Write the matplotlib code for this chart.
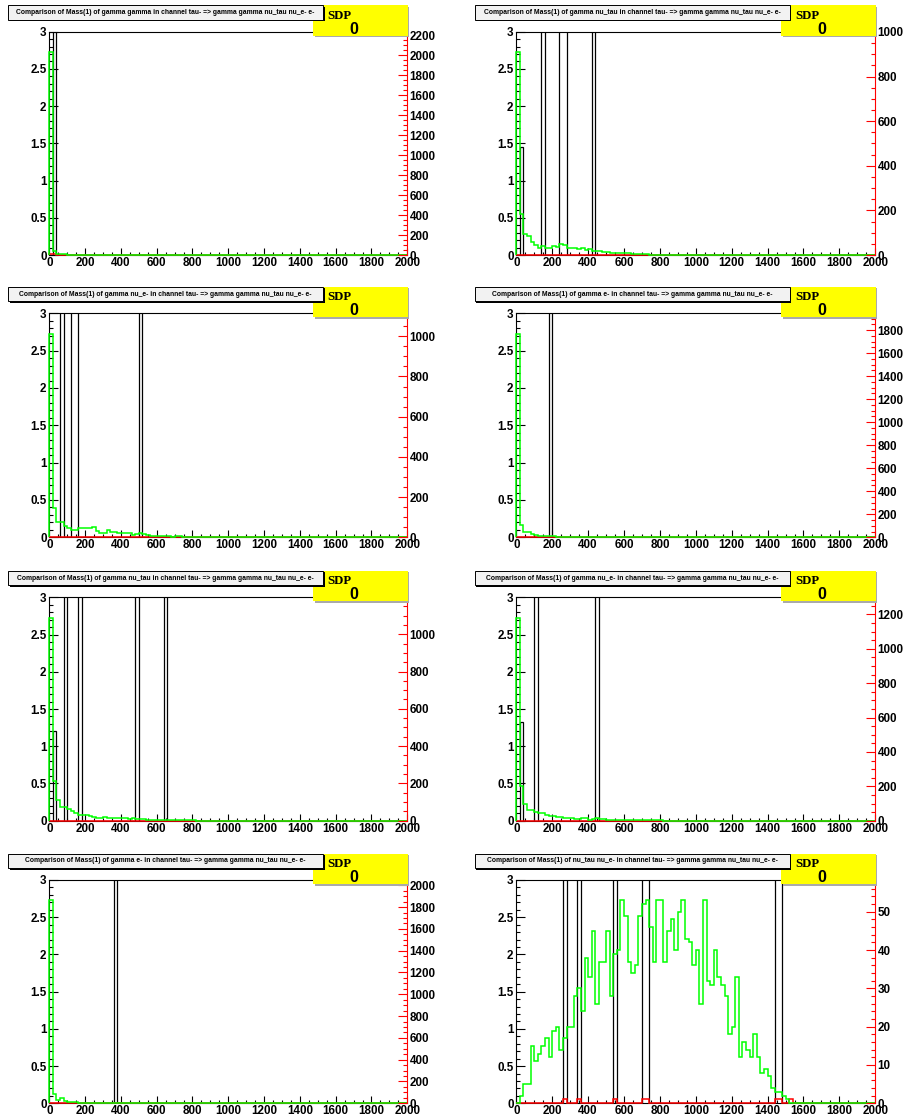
import numpy as np
import matplotlib
matplotlib.use('Agg')
import matplotlib.pyplot as plt
from matplotlib.patches import Rectangle
from matplotlib.ticker import MultipleLocator, FuncFormatter

# ================= data =================
W, H = 904, 1119
EDGES = np.arange(0, 2001, 20)          # 100 bins of Mass(1)

TAIL = "in channel tau- => gamma gamma nu_tau nu_e- e-"
PAIRS = ["gamma gamma", "gamma nu_tau", "gamma nu_e-", "gamma e-",
         "gamma nu_tau", "gamma nu_e-", "gamma e-", "nu_tau nu_e-"]

# green histogram, counts per bin (right axis), leading bins only
GREEN_1 = [2031, 37, 15, 7, 7, 4, 2, 1]
GREEN_2 = [910, 183, 93, 83, 60, 47, 33, 40, 33, 33, 40, 37, 50, 43, 33, 30, 30, 27, 30, 23,
           27, 17, 20, 17, 13, 13, 10, 10, 7, 10, 7, 7, 5, 4, 4, 3, 3, 2, 2, 2, 1, 1, 1, 1, 1]
GREEN_3 = [1013, 148, 74, 74, 56, 48, 37, 37, 45, 45, 48, 48, 52, 30, 22, 19, 37, 26, 26, 22,
           22, 22, 19, 11, 15, 19, 15, 11, 7, 4, 4, 4, 6, 4, 2, 4, 4, 2]
GREEN_4 = [1769, 110, 45, 45, 26, 19, 13, 13, 13, 10, 13, 6, 3, 3, 3, 3, 3, 2, 2, 2, 2]
GREEN_5 = [1089, 211, 112, 72, 72, 64, 52, 40, 32, 28, 28, 24, 20, 16, 12, 20, 16, 16, 16, 16,
           12, 12, 8, 12, 8, 8, 8, 6, 4, 2, 4, 2, 2, 2, 2, 2, 2, 2, 2, 2, 2]
GREEN_6 = [1181, 199, 100, 65, 65, 52, 43, 43, 35, 30, 26, 22, 22, 17, 13, 13, 9, 9, 13, 13,
           4, 9, 13, 9, 9, 6, 4, 4, 4, 4, 4, 4, 4, 4, 4, 4, 2, 2, 2, 2, 2]
GREEN_7 = [1862, 89, 34, 48, 20, 14, 14, 14, 7, 7, 7, 7, 7, 3, 3, 3, 3, 3, 3, 3, 3]
GREEN_8 = [0, 2, 5, 5, 15, 11, 13, 15, 17, 12, 19, 20, 14, 17, 20, 20, 28, 30, 24, 38,
           33, 45, 26, 37, 37, 45, 28, 39, 40, 53, 49, 37, 34, 36, 49, 52, 53, 46, 37, 53,
           53, 37, 45, 48, 40, 50, 53, 43, 42, 36, 40, 26, 53, 32, 31, 40, 33, 31, 28, 18,
           20, 33, 12, 16, 14, 12, 18, 12, 8, 9, 7, 4, 3, 3, 2, 1]
GREENS = [GREEN_1, GREEN_2, GREEN_3, GREEN_4, GREEN_5, GREEN_6, GREEN_7, GREEN_8]

# red histogram (right axis): bins and counts
RED_BINS = [[0, 1, 2], [1, 7, 12, 13, 21], [3, 6, 7, 25], [9], [4, 8, 24, 32], [5, 22], [18],
            [13, 17, 27, 35, 36, 72, 73, 76]]
RED_COUNTS = [[12, 8, 3], [2, 1, 1, 1, 1], [1, 1, 1, 1], [1], [1, 1, 1, 1], [1, 1], [1],
              [1, 1, 1, 1, 1, 1, 1, 1]]

# black ratio histogram (left axis 0..3): bins above the frame, plus bin 20-40
SPIKE_BINS = [[1], [7, 12, 13, 21], [3, 6, 7, 25], [9], [4, 8, 24, 32], [5, 22], [18],
              [13, 17, 27, 35, 36, 72, 73]]
SPIKE_VALUE = 5.0
RATIO_BIN1 = [None, 1.45, None, None, 1.2, 1.33, None, None]

# ================= layout (pixels) =================
FRAME_TOP = [31.7, 313.3, 597.3, 880.0]
FRAME_BOT = [255.0, 537.3, 820.7, 1103.3]
FRAME_X = [(49.3, 407.3), (516.3, 875.3)]
TITLE_X = [(8.0, 323.0), (475.0, 790.0)]

FONT = 'Liberation Sans'
TICK_FS = 8.4


def pad(vals, n=100):
    out = np.zeros(n)
    out[:len(vals)] = vals
    return out


def fig_rect(fig, x0, y0, x1, y1, **kw):
    r = Rectangle((x0 / W, 1 - y1 / H), (x1 - x0) / W, (y1 - y0) / H,
                  transform=fig.transFigure, **kw)
    fig.add_artist(r)
    return r


def fmt(v, _):
    return f"{v:g}"


def draw_panel(fig, i):
    row, col = divmod(i, 2)
    l, r = FRAME_X[col]
    t, b = FRAME_TOP[row], FRAME_BOT[row]
    ax = fig.add_axes([l / W, 1 - b / H, (r - l) / W, (b - t) / H])
    ax2 = ax.twinx()

    green = pad(GREENS[i])
    red = np.zeros(100)
    red[RED_BINS[i]] = RED_COUNTS[i]
    ratio = np.zeros(100)
    ratio[SPIKE_BINS[i]] = SPIKE_VALUE
    if RATIO_BIN1[i] is not None:
        ratio[1] = RATIO_BIN1[i]

    # ---- left: ratio ----
    ax.stairs(ratio, EDGES, color='black', lw=0.9, baseline=0)
    ax.set_xlim(0, 2000)
    ax.set_ylim(0, 3)
    ax.xaxis.set_major_locator(MultipleLocator(200))
    ax.xaxis.set_minor_locator(MultipleLocator(50))
    ax.yaxis.set_major_locator(MultipleLocator(0.5))
    ax.yaxis.set_minor_locator(MultipleLocator(0.1))
    ax.xaxis.set_major_formatter(FuncFormatter(fmt))
    ax.yaxis.set_major_formatter(FuncFormatter(fmt))
    ax.tick_params(axis='both', which='both', direction='in', top=False, right=False,
                   labelsize=TICK_FS, width=0.8)
    ax.tick_params(axis='y', which='major', length=6.5, pad=2)
    ax.tick_params(axis='y', which='minor', length=3.2)
    ax.tick_params(axis='x', which='major', length=5, pad=1.5)
    ax.tick_params(axis='x', which='minor', length=2.5)
    for lab in ax.get_xticklabels() + ax.get_yticklabels():
        lab.set_fontweight('bold')
        lab.set_fontfamily(FONT)
    ax.spines['right'].set_visible(False)
    for s in ('left', 'bottom', 'top'):
        ax.spines[s].set_linewidth(0.8)

    # ---- right: histograms ----
    ax2.stairs(red, EDGES, color='#ff0000', lw=1.1, baseline=0, clip_on=False)
    ax2.stairs(green, EDGES, color='#00ff00', lw=1.1, baseline=0, clip_on=False)
    ax2.set_ylim(0, 1.1 * green.max())
    ax2.set_xlim(0, 2000)
    big = max(green) > 200
    ax2.yaxis.set_major_locator(MultipleLocator(200 if big else 10))
    ax2.yaxis.set_minor_locator(MultipleLocator(50 if big else 2))
    ax2.yaxis.set_major_formatter(FuncFormatter(fmt))
    ax2.tick_params(axis='y', which='both', direction='in', color='#ff0000',
                    labelcolor='black', labelsize=TICK_FS, width=0.8, pad=1.5)
    ax2.tick_params(axis='y', which='major', length=6.5)
    ax2.tick_params(axis='y', which='minor', length=3.2)
    for lab in ax2.get_yticklabels():
        lab.set_fontweight('bold')
        lab.set_fontfamily(FONT)
    for s in ('left', 'bottom', 'top'):
        ax2.spines[s].set_visible(False)
    ax2.spines['right'].set_color('#ff0000')
    ax2.spines['right'].set_linewidth(0.8)

    # ---- yellow SDP box ----
    yl, yr = r - 94.0, r + 0.2
    yt, yb = t - 26.5, t + 4.0
    fig_rect(fig, yl + 1.5, yt + 1.5, yr + 1.5, yb + 1.5, facecolor='#aaaaaa',
             edgecolor='none', zorder=5)
    fig_rect(fig, yl, yt, yr, yb, facecolor='#ffff00', edgecolor='none', zorder=6)
    fig.text((yl + 14.5) / W, 1 - (yt + 13.5) / H, 'SDP', fontsize=9.2, fontweight='bold',
             family='Liberation Serif', va='baseline', ha='left', zorder=7)
    fig.text(((yl + yr) / 2 - 6.5) / W, 1 - (yt + 28.5) / H, '0', fontsize=11.5,
             fontweight='bold', family=FONT, va='baseline', ha='center', zorder=7)

    # ---- title box ----
    tl, tr = TITLE_X[col]
    tt, tb = t - 26.5, t - 12.0
    fig_rect(fig, tl + 1.5, tt + 1.5, tr + 1.5, tb + 1.5, facecolor='black',
             edgecolor='none', zorder=8)
    fig_rect(fig, tl, tt, tr, tb, facecolor='#f2f2f2', edgecolor='black', lw=0.7, zorder=9)
    fig.text((tl + tr) / 2 / W, 1 - (tt + tb) / 2 / H,
             f"Comparison of Mass(1) of {PAIRS[i]} {TAIL}", fontsize=4.9,
             fontweight='bold', family=FONT, ha='center', va='center', zorder=10)


fig = plt.figure(figsize=(W / 100, H / 100), dpi=100, facecolor='white')
for k in range(8):
    draw_panel(fig, k)
fig.savefig('out.png', dpi=100, facecolor='white')
